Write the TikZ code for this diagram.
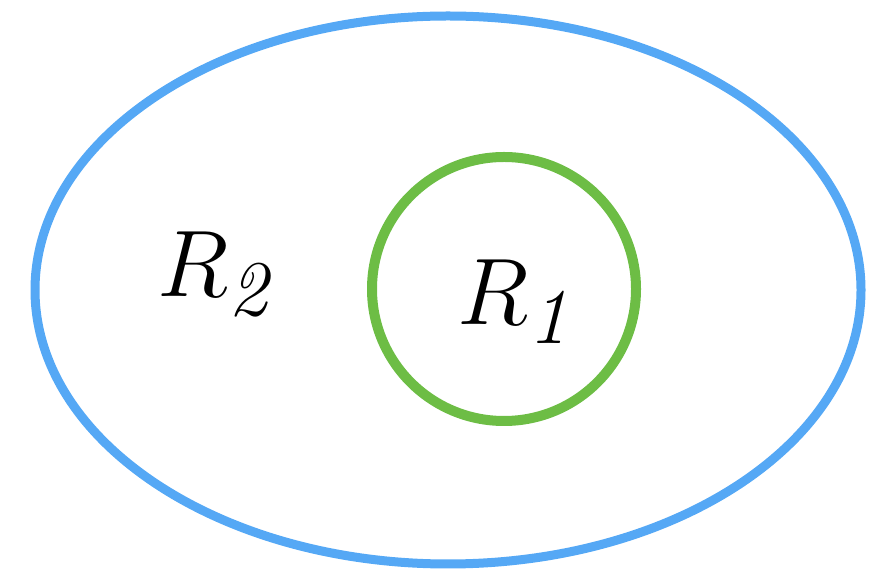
\documentclass[tikz,border=0pt]{standalone}
\usepackage{tikz}
\definecolor{outerblue}{HTML}{55A8F5}
\definecolor{innergreen}{HTML}{6DBD45}

\begin{document}
\begin{tikzpicture}[x=1pt, y=1pt,
  region/.style={line width=9pt},
  rlabel/.style={inner sep=0pt, anchor=base west, font=\Huge, scale=3.8, transform shape}
]
\useasboundingbox (0,0) rectangle (888,575);

\draw[region, outerblue] (448,285) ellipse [x radius=413, y radius=274];
\draw[region, innergreen, line width=10pt] (504,286) circle [radius=132];

\node[rlabel] (r2) at (157,278) {$R_{\mathit{2}}$};
\node[rlabel] (r1) at (457,250) {$R_{\mathit{1}}$};
\end{tikzpicture}
\end{document}
